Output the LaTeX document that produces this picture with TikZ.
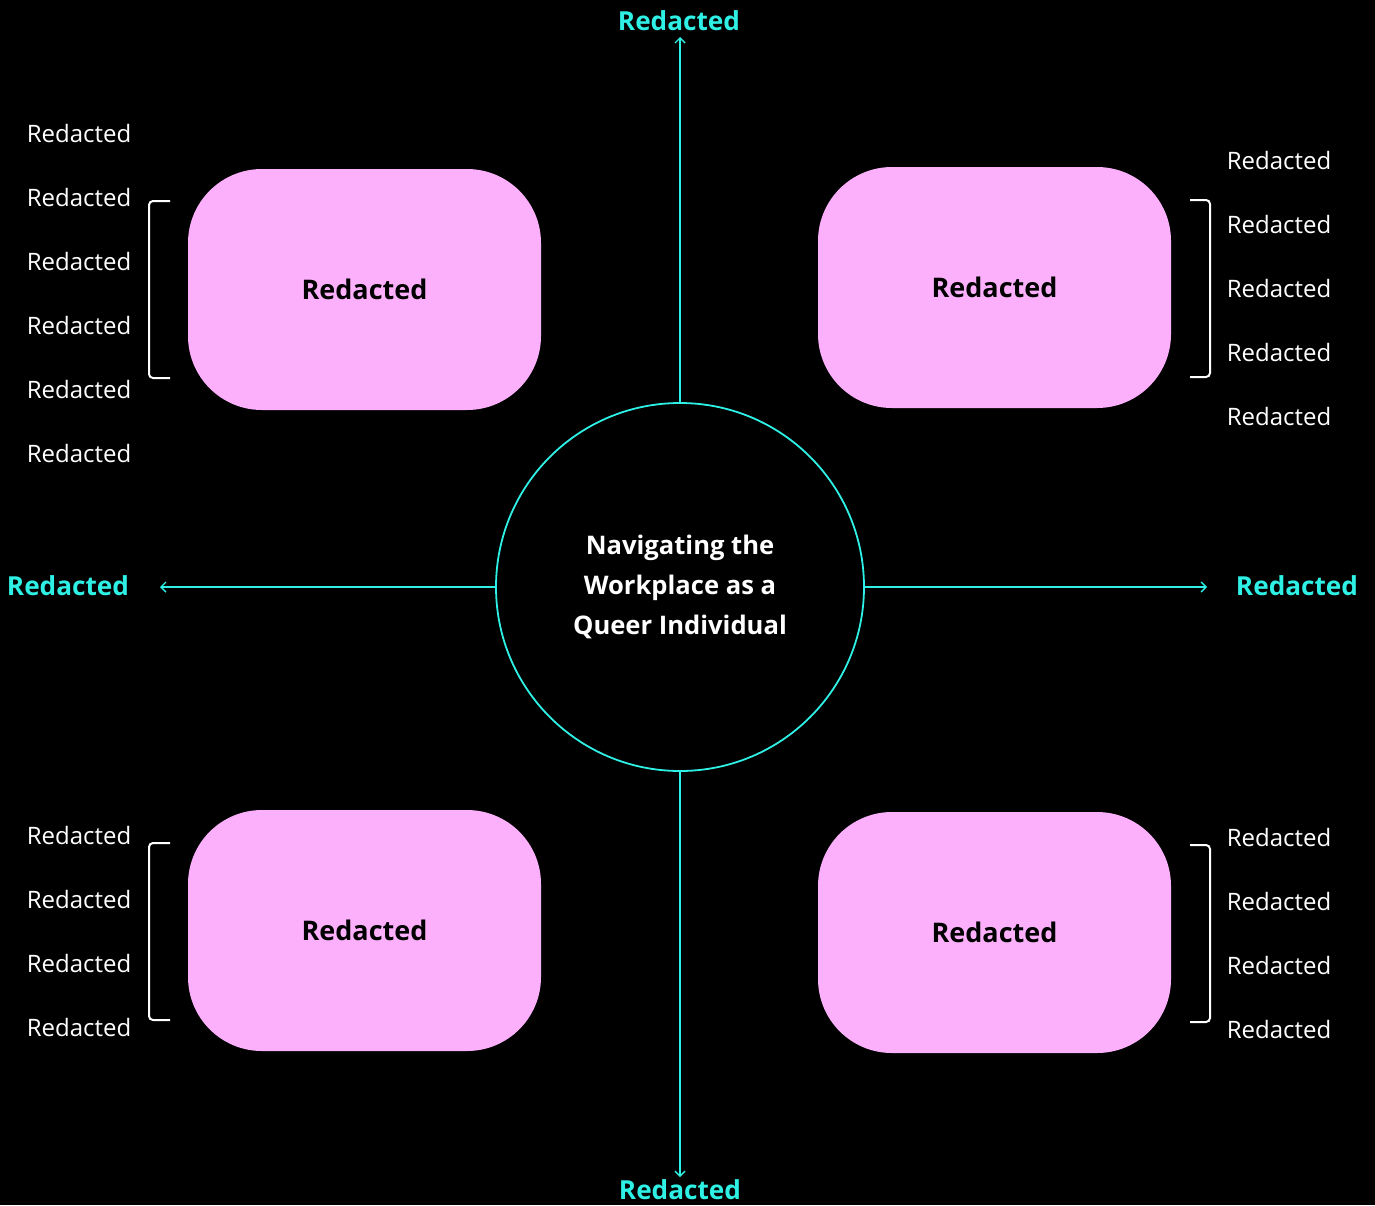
\documentclass[tikz,border=0pt]{standalone}
\usepackage{fontspec}
\setmainfont{Open Sans}
\usepackage{tikz}
\usetikzlibrary{arrows.meta, positioning, calc}

\definecolor{aqua}{RGB}{46,240,228}
\definecolor{petal}{RGB}{252,176,252}

\tikzset{
    hub/.style={circle, draw=aqua, line width=0.9pt, minimum size=184pt, inner sep=0pt,
        text=white, align=center, font=\bfseries\fontsize{12.8}{20}\selectfont},
    card/.style={rounded corners=37pt, fill=petal, minimum width=176.5pt, minimum height=120.5pt,
        font=\bfseries\fontsize{13.5}{16}\selectfont, text=black},
    item/.style={text=white, font=\fontsize{12}{14}\selectfont},
    axis/.style={text=aqua, font=\bfseries\fontsize{13.1}{15}\selectfont},
    spoke/.style={draw=aqua, line width=0.7pt, -{Straight Barb[length=2.5pt, width=5pt]}},
    brack/.style={draw=white, line width=1pt},
}

\begin{document}
\begin{tikzpicture}[x=0.5pt, y=-0.5pt]
            \fill[black] (0,0) rectangle (1375,1205);
            \useasboundingbox (0,0) rectangle (1375,1205);

            \node[hub] (hub) at (680,587) {Navigating the\\Workplace as a\\Queer Individual};

            \node[card] (tl) at (364.5,289.5) {Redacted};
            \node[card] (tr) at (994.5,287.5) {Redacted};
            \node[card] (bl) at (364.5,930.5) {Redacted};
            \node[card] (br) at (994.5,932.5) {Redacted};

            % axis ends and labels
            \coordinate (north) at (680,37);
            \coordinate (south) at (680,1177);
            \coordinate (west) at (160,587);
            \coordinate (east) at (1207,587);
            \node[axis] (nlab) at (679,21) {Redacted};
            \node[axis] (slab) at (680,1190) {Redacted};
            \node[axis] (wlab) at (68,586) {Redacted};
            \node[axis] (elab) at (1297,586) {Redacted};

            \draw[spoke] (hub.north) -- (north);
            \draw[spoke] (hub.south) -- (south);
            \draw[spoke] (hub.west) -- (west);
            \draw[spoke] (hub.east) -- (east);

            % lists
            \foreach \y [count=\k] in {133,197,261,325,389,453} {
                \node[item] (tl\k) at (79,\y) {Redacted};
            }
            \foreach \y [count=\k] in {160,224,288,352,416} {
                \node[item] (tr\k) at (1279,\y) {Redacted};
            }
            \foreach \y [count=\k] in {835,899,963,1027} {
                \node[item] (bl\k) at (79,\y) {Redacted};
            }
            \foreach \y [count=\k] in {837,901,965,1029} {
                \node[item] (br\k) at (1279,\y) {Redacted};
            }

            % brackets
            \draw[brack, rounded corners=2pt] (170,201) -- (149,201) -- (149,378) -- (170,378);
            \draw[brack, rounded corners=2pt] (1190,200) -- (1210,200) -- (1210,377) -- (1190,377);
            \draw[brack, rounded corners=2pt] (170,843) -- (149,843) -- (149,1020) -- (170,1020);
            \draw[brack, rounded corners=2pt] (1190,845) -- (1210,845) -- (1210,1022) -- (1190,1022);
        \end{tikzpicture}
\end{document}
